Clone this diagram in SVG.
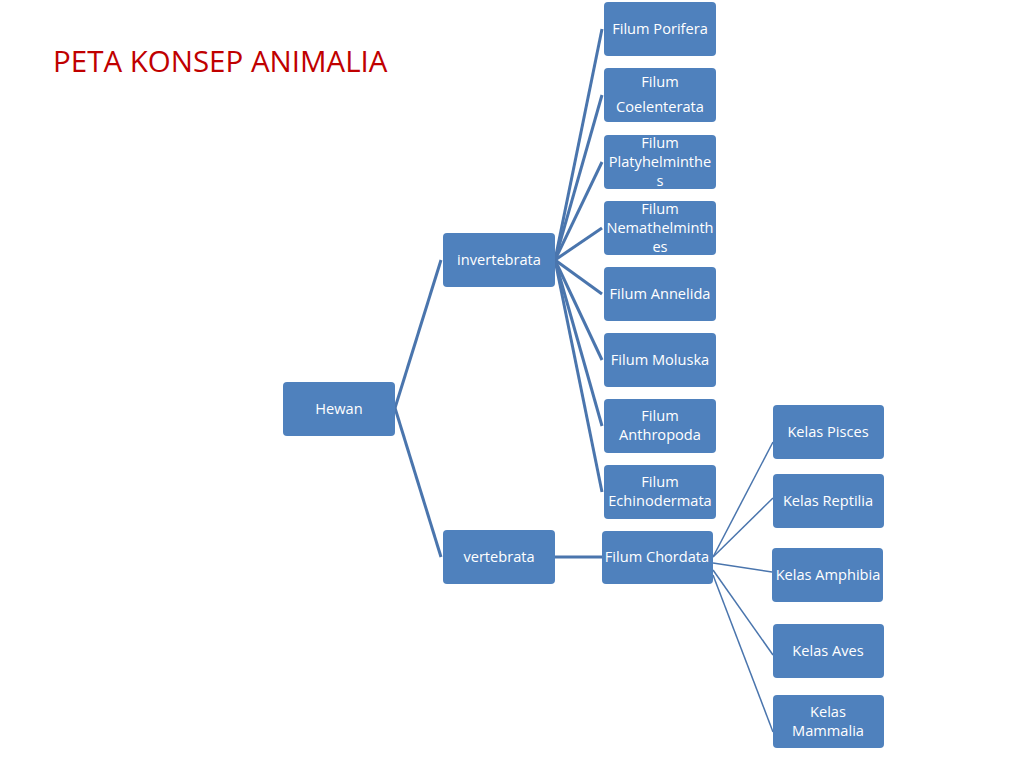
<svg xmlns="http://www.w3.org/2000/svg" width="1024" height="768" viewBox="0 0 1024 768">
<style>
.n{fill:#4f81bd;}
.t{font-family:"Open Sans","Liberation Sans",Arial,sans-serif;font-size:14.6px;fill:#ffffff;text-anchor:middle;}
.c{stroke:#4a75ad;stroke-width:3;fill:none;}
.c2{stroke:#4a75ad;stroke-width:1.5;fill:none;}
.title{font-family:"Open Sans","Liberation Sans",sans-serif;font-size:29.5px;fill:#c00000;}
</style>
<rect width="1024" height="768" fill="#ffffff"/>
<text class="title" x="53" y="72">PETA KONSEP ANIMALIA</text>
<g id="connectors">
<path class="c" d="M395,408 L441,260"/>
<path class="c" d="M395,408 L441,557"/>
<path class="c" d="M555,260 L602,29"/>
<path class="c" d="M555,260 L602,95"/>
<path class="c" d="M555,260 L602,162"/>
<path class="c" d="M555,260 L602,228"/>
<path class="c" d="M555,260 L602,294"/>
<path class="c" d="M555,260 L602,360"/>
<path class="c" d="M555,260 L602,426"/>
<path class="c" d="M555,260 L602,492"/>
<path class="c" d="M555,557 L602,557"/>
<path class="c2" d="M713,557 L773,442"/>
<path class="c2" d="M713,557 L773,498"/>
<path class="c2" d="M713,563 L772,572"/>
<path class="c2" d="M713,570 L773,655"/>
<path class="c2" d="M713,575 L773,732"/>
</g>
<g id="hewan"><rect class="n" x="283" y="382" width="112" height="54" rx="4"/><text class="t" x="339" y="414">Hewan</text></g>
<g id="invertebrata"><rect class="n" x="443" y="233" width="112" height="54" rx="4"/><text class="t" x="499" y="265">invertebrata</text></g>
<g id="vertebrata"><rect class="n" x="443" y="530" width="112" height="54" rx="4"/><text class="t" x="499" y="562">vertebrata</text></g>
<g id="porifera"><rect class="n" x="604" y="2" width="112" height="54" rx="4"/><text class="t" x="660" y="34">Filum Porifera</text></g>
<g id="coelenterata"><rect class="n" x="604" y="68" width="112" height="54" rx="4"/><text class="t" x="660" y="87">Filum</text><text class="t" x="660" y="112">Coelenterata</text></g>
<g id="platyhelminthes"><rect class="n" x="604" y="135" width="112" height="54" rx="4"/><text class="t" x="660" y="148">Filum</text><text class="t" x="660" y="167">Platyhelminthe</text><text class="t" x="660" y="186">s</text></g>
<g id="nemathelminthes"><rect class="n" x="604" y="201" width="112" height="54" rx="4"/><text class="t" x="660" y="214">Filum</text><text class="t" x="660" y="233">Nemathelminth</text><text class="t" x="660" y="252">es</text></g>
<g id="annelida"><rect class="n" x="604" y="267" width="112" height="54" rx="4"/><text class="t" x="660" y="299">Filum Annelida</text></g>
<g id="moluska"><rect class="n" x="604" y="333" width="112" height="54" rx="4"/><text class="t" x="660" y="365">Filum Moluska</text></g>
<g id="anthropoda"><rect class="n" x="604" y="399" width="112" height="54" rx="4"/><text class="t" x="660" y="421">Filum</text><text class="t" x="660" y="440">Anthropoda</text></g>
<g id="echinodermata"><rect class="n" x="604" y="465" width="112" height="54" rx="4"/><text class="t" x="660" y="487">Filum</text><text class="t" x="660" y="506">Echinodermata</text></g>
<g id="chordata"><rect class="n" x="602" y="531" width="111" height="53" rx="4"/><text class="t" x="657" y="562">Filum Chordata</text></g>
<g id="pisces"><rect class="n" x="773" y="405" width="111" height="54" rx="4"/><text class="t" x="828" y="437">Kelas Pisces</text></g>
<g id="reptilia"><rect class="n" x="773" y="474" width="111" height="54" rx="4"/><text class="t" x="828" y="506">Kelas Reptilia</text></g>
<g id="amphibia"><rect class="n" x="772" y="548" width="111" height="54" rx="4"/><text class="t" x="828" y="580">Kelas Amphibia</text></g>
<g id="aves"><rect class="n" x="773" y="624" width="111" height="54" rx="4"/><text class="t" x="828" y="656">Kelas Aves</text></g>
<g id="mammalia"><rect class="n" x="773" y="695" width="111" height="53" rx="4"/><text class="t" x="828" y="717">Kelas</text><text class="t" x="828" y="736">Mammalia</text></g>
</svg>
